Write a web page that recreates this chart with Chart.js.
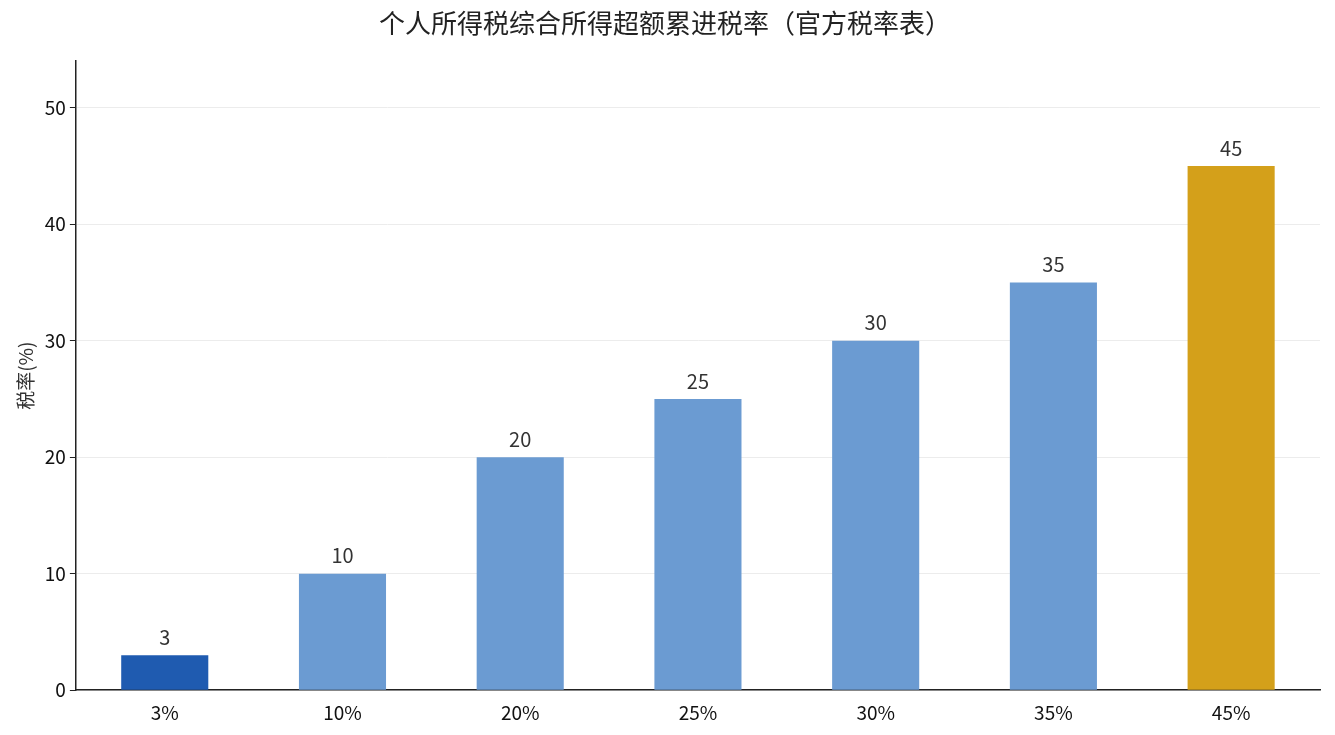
<!DOCTYPE html>
<html>
<head>
<meta charset="utf-8">
<script src="https://cdn.jsdelivr.net/npm/chart.js@4"></script>
<style>
body { margin: 0; background: #fff; }
</style>
</head>
<body>
<canvas id="taxchart" width="1335" height="735"></canvas>
<script>
const labels = ["3%", "10%", "20%", "25%", "30%", "35%", "45%"];
const rates = [3, 10, 20, 25, 30, 35, 45];
const colors = ["#1f5bb0", "#6b9bd2", "#6b9bd2", "#6b9bd2", "#6b9bd2", "#6b9bd2", "#d4a01a"];
const FONT = "'Noto Sans CJK SC', 'Noto Sans', sans-serif";

// value labels above bars
const valueLabels = {
    id: "valueLabels",
    afterDatasetsDraw(chart) {
        const ctx = chart.ctx;
        const meta = chart.getDatasetMeta(0);
        ctx.save();
        ctx.font = "20px " + FONT;
        ctx.fillStyle = "#333";
        ctx.textAlign = "center";
        ctx.textBaseline = "bottom";
        meta.data.forEach(function (bar, i) {
            ctx.fillText(String(rates[i]), bar.x, bar.y - 8);
        });
        ctx.restore();
    }
};

new Chart(document.getElementById("taxchart"), {
    "type": "bar",
    "data": {
        "labels": labels,
        "datasets": [{
            "data": rates,
            "backgroundColor": colors,
            "barPercentage": 0.49,
            "categoryPercentage": 1
        }]
    },
    "options": {
        responsive: false,
        animation: false,
        layout: { padding: { left: 10, right: 15, top: 0, bottom: 8 } },
        plugins: {
            legend: { display: false },
            tooltip: { enabled: false },
            title: {
                display: true,
                text: "个人所得税综合所得超额累进税率（官方税率表）",
                color: "#222",
                font: { family: FONT, size: 26, weight: "normal" },
                padding: { top: 8, bottom: 22 }
            }
        },
        scales: {
            x: {
                grid: { display: false },
                border: { color: "#222", width: 1.5 },
                ticks: { color: "#111", font: { family: FONT, size: 19 }, maxRotation: 0, autoSkip: false }
            },
            y: {
                min: 0,
                max: 54,
                afterBuildTicks(axis) {
                    axis.ticks = [0, 10, 20, 30, 40, 50].map(v => ({ value: v }));
                },
                grid: { color: "#ececec", drawTicks: true, tickColor: "#222", tickLength: 6 },
                border: { color: "#222", width: 1.5 },
                ticks: { color: "#111", font: { family: FONT, size: 19 }, padding: 4 },
                title: {
                    display: true,
                    text: "税率(%)",
                    color: "#333",
                    font: { family: FONT, size: 19 }
                }
            }
        }
    },
    plugins: [valueLabels]
});
</script>
</body>
</html>
